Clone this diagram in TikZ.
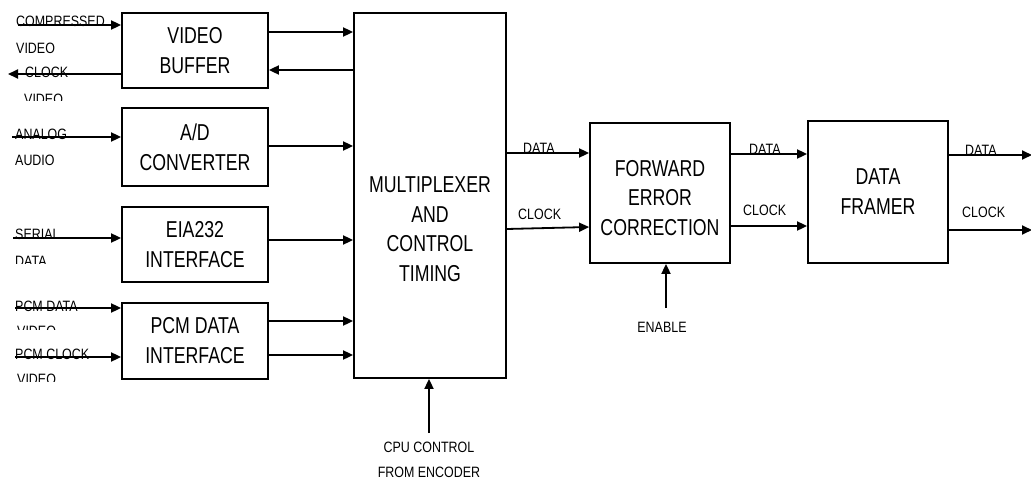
\documentclass[tikz,border=0pt]{standalone}
\usepackage{fontspec}
\setmainfont{Liberation Sans}
\newfontfamily\boxfont[FakeStretch=0.77]{Liberation Sans}
\newfontfamily\lblfont[FakeStretch=0.83]{Liberation Sans}
\usetikzlibrary{arrows.meta}
\begin{document}
\begin{tikzpicture}[x=1pt,y=-1pt,
  blk/.style={draw, line width=1.8pt, inner sep=0pt, align=center,
    font=\boxfont\fontsize{23}{30}\selectfont},
  arr/.style={line width=1.8pt, -{Triangle[length=10pt,width=9pt]}},
  lbl/.style={font=\lblfont\fontsize{15}{17}\selectfont, inner sep=0pt, anchor=base west},
  lblc/.style={lbl, anchor=base}]
\useasboundingbox (0,0) rectangle (1031,479);
% blocks
\node[blk, minimum width=146pt, minimum height=75pt] (vb) at (195,50.5) {VIDEO\\BUFFER};
\node[blk, minimum width=146pt, minimum height=78pt] (ad) at (195,147) {A/D\\CONVERTER};
\node[blk, minimum width=146pt, minimum height=75pt] (eia) at (195,244.5) {EIA232\\INTERFACE};
\node[blk, minimum width=146pt, minimum height=76pt] (pcm) at (195,341) {PCM DATA\\INTERFACE};
\node[blk, minimum width=152pt, minimum height=365pt] (mux) at (430,195.5) {};
\node[align=center, inner sep=0pt, font=\boxfont\fontsize{23}{29.5}\selectfont] (muxt) at (430,229) {MULTIPLEXER\\AND\\CONTROL\\TIMING};
\node[blk, minimum width=140pt, minimum height=140pt] (fec) at (660,193) {};
\node[align=center, inner sep=0pt, font=\boxfont\fontsize{23}{29.5}\selectfont] (fect) at (660,198) {FORWARD\\ERROR\\CORRECTION};
\node[blk, minimum width=140pt, minimum height=142pt] (fr) at (878,192) {DATA\\FRAMER};
% helper coordinates
\coordinate (cvin) at (18,25);
\coordinate (cvout) at (8,74);
\coordinate (aain) at (12,137);
\coordinate (sdin) at (13,238);
\coordinate (pdin) at (15,308);
\coordinate (pcin) at (15,357);
\coordinate (h32) at (0,32);
\coordinate (h70) at (0,70);
\coordinate (h146) at (0,146);
\coordinate (h240) at (0,240);
\coordinate (h321) at (0,321);
\coordinate (h355) at (0,355);
\coordinate (cpu) at (429,433);
\coordinate (h153) at (0,153);
\coordinate (h229) at (0,229);
\coordinate (h227) at (0,227);
\coordinate (h154) at (0,154);
\coordinate (h226) at (0,226);
\coordinate (dout) at (1032,155);
\coordinate (cout) at (1032,230);
\coordinate (h230) at (0,230);
\coordinate (h155) at (0,155);
\coordinate (en) at (666,308);
% connectors
\draw[arr] (cvin) -- (cvin -| vb.west);
\draw[arr] (vb.west |- cvout) -- (cvout);
\draw[arr] (vb.east |- h32) -- (mux.west |- h32);
\draw[arr] (mux.west |- h70) -- (vb.east |- h70);
\draw[arr] (aain) -- (aain -| ad.west);
\draw[arr] (ad.east |- h146) -- (mux.west |- h146);
\draw[arr] (sdin) -- (sdin -| eia.west);
\draw[arr] (eia.east |- h240) -- (mux.west |- h240);
\draw[arr] (pdin) -- (pdin -| pcm.west);
\draw[arr] (pcin) -- (pcin -| pcm.west);
\draw[arr] (pcm.east |- h321) -- (mux.west |- h321);
\draw[arr] (pcm.east |- h355) -- (mux.west |- h355);
\draw[arr] (cpu) -- (cpu |- mux.south);
\draw[arr] (mux.east |- h153) -- (fec.west |- h153);
\draw[arr] (mux.east |- h229) -- (fec.west |- h227);
\draw[arr] (fec.east |- h154) -- (fr.west |- h154);
\draw[arr] (fec.east |- h226) -- (fr.west |- h226);
\draw[arr] (fr.east |- h155) -- (dout);
\draw[arr] (fr.east |- h230) -- (cout);
\draw[arr] (en) -- (en |- fec.south);
% labels
\node[lbl] (l1) at (16,27) {COMPRESSED};
\node[lbl] (l2) at (16,53) {VIDEO};
\node[lbl] (l3) at (25,77) {CLOCK};
\begin{scope}\clip (0,86) rectangle (120,100);
\node[lbl] (l4) at (24,104) {VIDEO};
\end{scope}
\node[lbl] (l5) at (15,139) {ANALOG};
\node[lbl] (l6) at (15,165) {AUDIO};
\node[lbl] (l7) at (15,239) {SERIAL};
\begin{scope}\clip (0,248) rectangle (120,263);
\node[lbl] (l8) at (15,266) {DATA};
\end{scope}
\node[lbl] (l9) at (15,311) {PCM DATA};
\begin{scope}\clip (0,318) rectangle (120,329);
\node[lbl] (l10) at (17,336) {VIDEO};
\end{scope}
\node[lbl] (l11) at (15,359) {PCM CLOCK};
\begin{scope}\clip (0,366) rectangle (120,381);
\node[lbl] (l12) at (17,384) {VIDEO};
\end{scope}
\node[lblc] (l13) at (429,452) {CPU CONTROL};
\node[lblc] (l14) at (429,477) {FROM ENCODER};
\node[lblc] (l15) at (662,332) {ENABLE};
\node[lbl] (l16) at (523,153) {DATA};
\node[lbl] (l17) at (518,219) {CLOCK};
\node[lbl] (l18) at (749,154) {DATA};
\node[lbl] (l19) at (743,215) {CLOCK};
\node[lbl] (l20) at (965,155) {DATA};
\node[lbl] (l21) at (962,217) {CLOCK};
\end{tikzpicture}
\end{document}
